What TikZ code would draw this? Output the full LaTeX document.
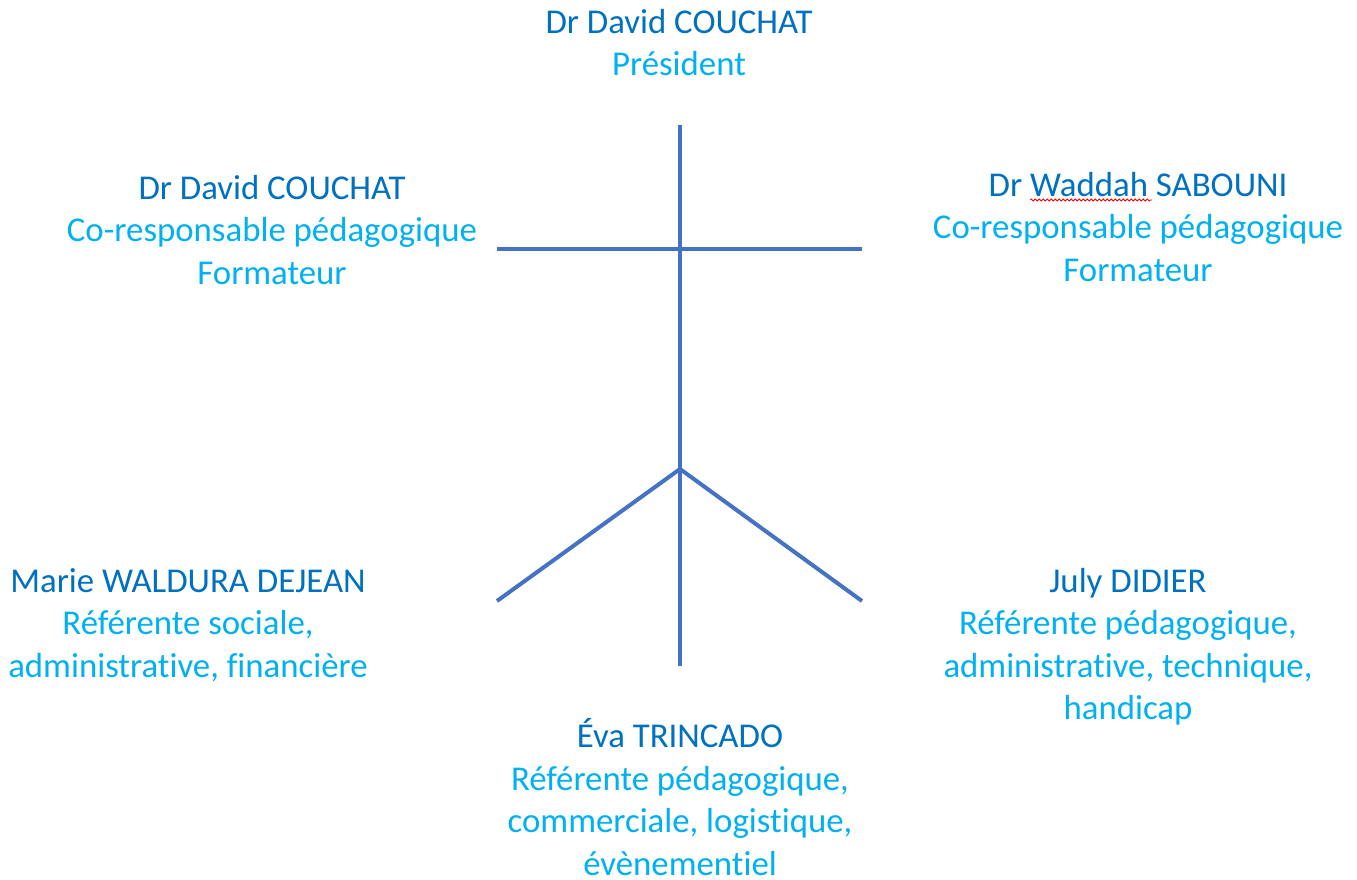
\documentclass[tikz,border=0pt]{standalone}
\usepackage{fontspec}
\setmainfont[Ligatures=NoCommon]{Carlito}
\usetikzlibrary{decorations.pathmorphing}
\definecolor{namecol}{HTML}{0070C0}
\definecolor{rolecol}{HTML}{00B0F0}
\definecolor{linecol}{HTML}{4472C4}
\newcommand{\nm}[1]{\textcolor{namecol}{#1}}
\begin{document}
\begin{tikzpicture}[x=1pt,y=-1pt,
  person/.style={anchor=north,align=center,inner sep=0pt,text=rolecol,
    font=\fontsize{34.8}{42.5}\selectfont},
  frame/.style={line width=4pt,draw=linecol}]
\useasboundingbox (0,0) rectangle (1357,879);
% text nodes
\node[person] (pres) at (679,3.3) {\strut\nm{Dr David COUCHAT}\\Président};
\node[person] (coL) at (272,169.3) {\strut\nm{Dr David COUCHAT}\\Co-responsable pédagogique\\Formateur};
\node[person] (coR) at (1138,166.3) {\strut\nm{Dr Waddah SABOUNI}\\Co-responsable pédagogique\\Formateur};
\node[person] (marie) at (188,562.3) {\strut\nm{Marie WALDURA DEJEAN}\\Référente sociale,\\administrative, financière};
\node[person] (july) at (1128,562.3) {\strut\nm{July DIDIER}\\Référente pédagogique,\\administrative, technique,\\handicap};
\node[person] (eva) at (680,717.8) {\strut\nm{Éva TRINCADO}\\Référente pédagogique,\\commerciale, logistique,\\évènementiel};
% frame
\coordinate (top) at (680,125);
\coordinate (bot) at (680,666);
\coordinate (hl) at (497,249);
\coordinate (hr) at (862,249);
\coordinate (fork) at (680,469);
\coordinate (dl) at (497,601);
\coordinate (dr) at (862,601);
\draw[frame] (top) -- (bot);
\draw[frame] (hl) -- (hr);
\draw[frame] (dl) -- (fork) -- (dr);
% spell-check underline
\coordinate (wa) at (1030,200);
\coordinate (wb) at (1152,200);
\draw[red,line width=0.8pt,decorate,decoration={snake,segment length=4pt,amplitude=1pt}] (wa) -- (wb);
\end{tikzpicture}
\end{document}
